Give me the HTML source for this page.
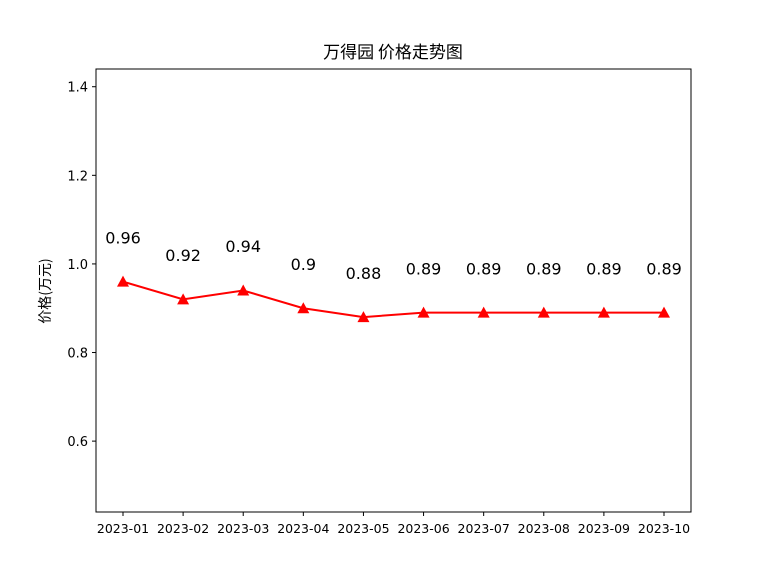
<!DOCTYPE html>
<html><head><meta charset="utf-8"><style>
body{margin:0;background:#fff;}
svg text{font-family:"DejaVu Sans","Noto Sans CJK SC",sans-serif;}
</style></head><body>
<svg width="768" height="576" viewBox="0 0 768 576" xmlns="http://www.w3.org/2000/svg">
<rect x="0" y="0" width="768" height="576" fill="#fff"/>
<text x="393" y="58" text-anchor="middle" font-size="17" style="font-family:'Noto Sans CJK SC',sans-serif">万得园 价格走势图</text>
<text transform="translate(50,291) rotate(-90)" text-anchor="middle" font-size="14" style="font-family:'Noto Sans CJK SC',sans-serif">价格(万元)</text>
<g id="yticks"></g><g id="xticks"></g><g id="series"></g>
<rect x="96" y="69" width="595" height="443" fill="none" stroke="#000" stroke-width="1"/>
</svg>
<script>
const categories=["2023-01","2023-02","2023-03","2023-04","2023-05","2023-06","2023-07","2023-08","2023-09","2023-10"];
const values=[0.96,0.92,0.94,0.9,0.88,0.89,0.89,0.89,0.89,0.89];
const valueLabels=["0.96","0.92","0.94","0.9","0.88","0.89","0.89","0.89","0.89","0.89"];
const yTicks=[0.6,0.8,1.0,1.2,1.4];
const NS="http://www.w3.org/2000/svg";
const yMin=0.44,yMax=1.44,plotTop=69,plotBot=512;
function yScale(v){return plotBot-(v-yMin)/(yMax-yMin)*(plotBot-plotTop);}
function xScale(i){return 123+i*(664-123)/(categories.length-1);}
function mk(t,a,p){const e=document.createElementNS(NS,t);for(const k in a)e.setAttribute(k,a[k]);p.appendChild(e);return e;}
const yt=document.getElementById('yticks');
yTicks.forEach(v=>{
 const l=mk('line',{x1:92,x2:96,y1:yScale(v),y2:yScale(v),stroke:'#000'},yt);
 
 
 const t=mk('text',{x:88,y:yScale(v)+5,'text-anchor':'end','font-size':13},yt);
 
 
 t.textContent=v.toFixed(1);
});
const xt=document.getElementById('xticks');
categories.forEach((c,i)=>{
 const l=mk('line',{x1:xScale(i),x2:xScale(i),y1:512,y2:516,stroke:'#000'},xt);
 
 
 const t=mk('text',{x:xScale(i),y:533,'text-anchor':'middle','font-size':12.5},xt);
 
 
 t.textContent=c;
});
const s=document.getElementById('series');
const pl=mk('polyline',{points:values.map((v,i)=>xScale(i)+','+yScale(v)).join(' '),fill:'none',stroke:'red','stroke-width':2},s);


values.forEach((v,i)=>{
 const cx=xScale(i),cy=yScale(v);
 const m=mk('polygon',{points:`${cx},${cy-6} ${cx-6},${cy+5} ${cx+6},${cy+5}`,fill:'red'},s);
 
 
 const t=mk('text',{x:cx,y:yScale(v+0.1)+6,'text-anchor':'middle','font-size':16},s);
 
 
 t.textContent=valueLabels[i];
});
</script>
</body></html>
